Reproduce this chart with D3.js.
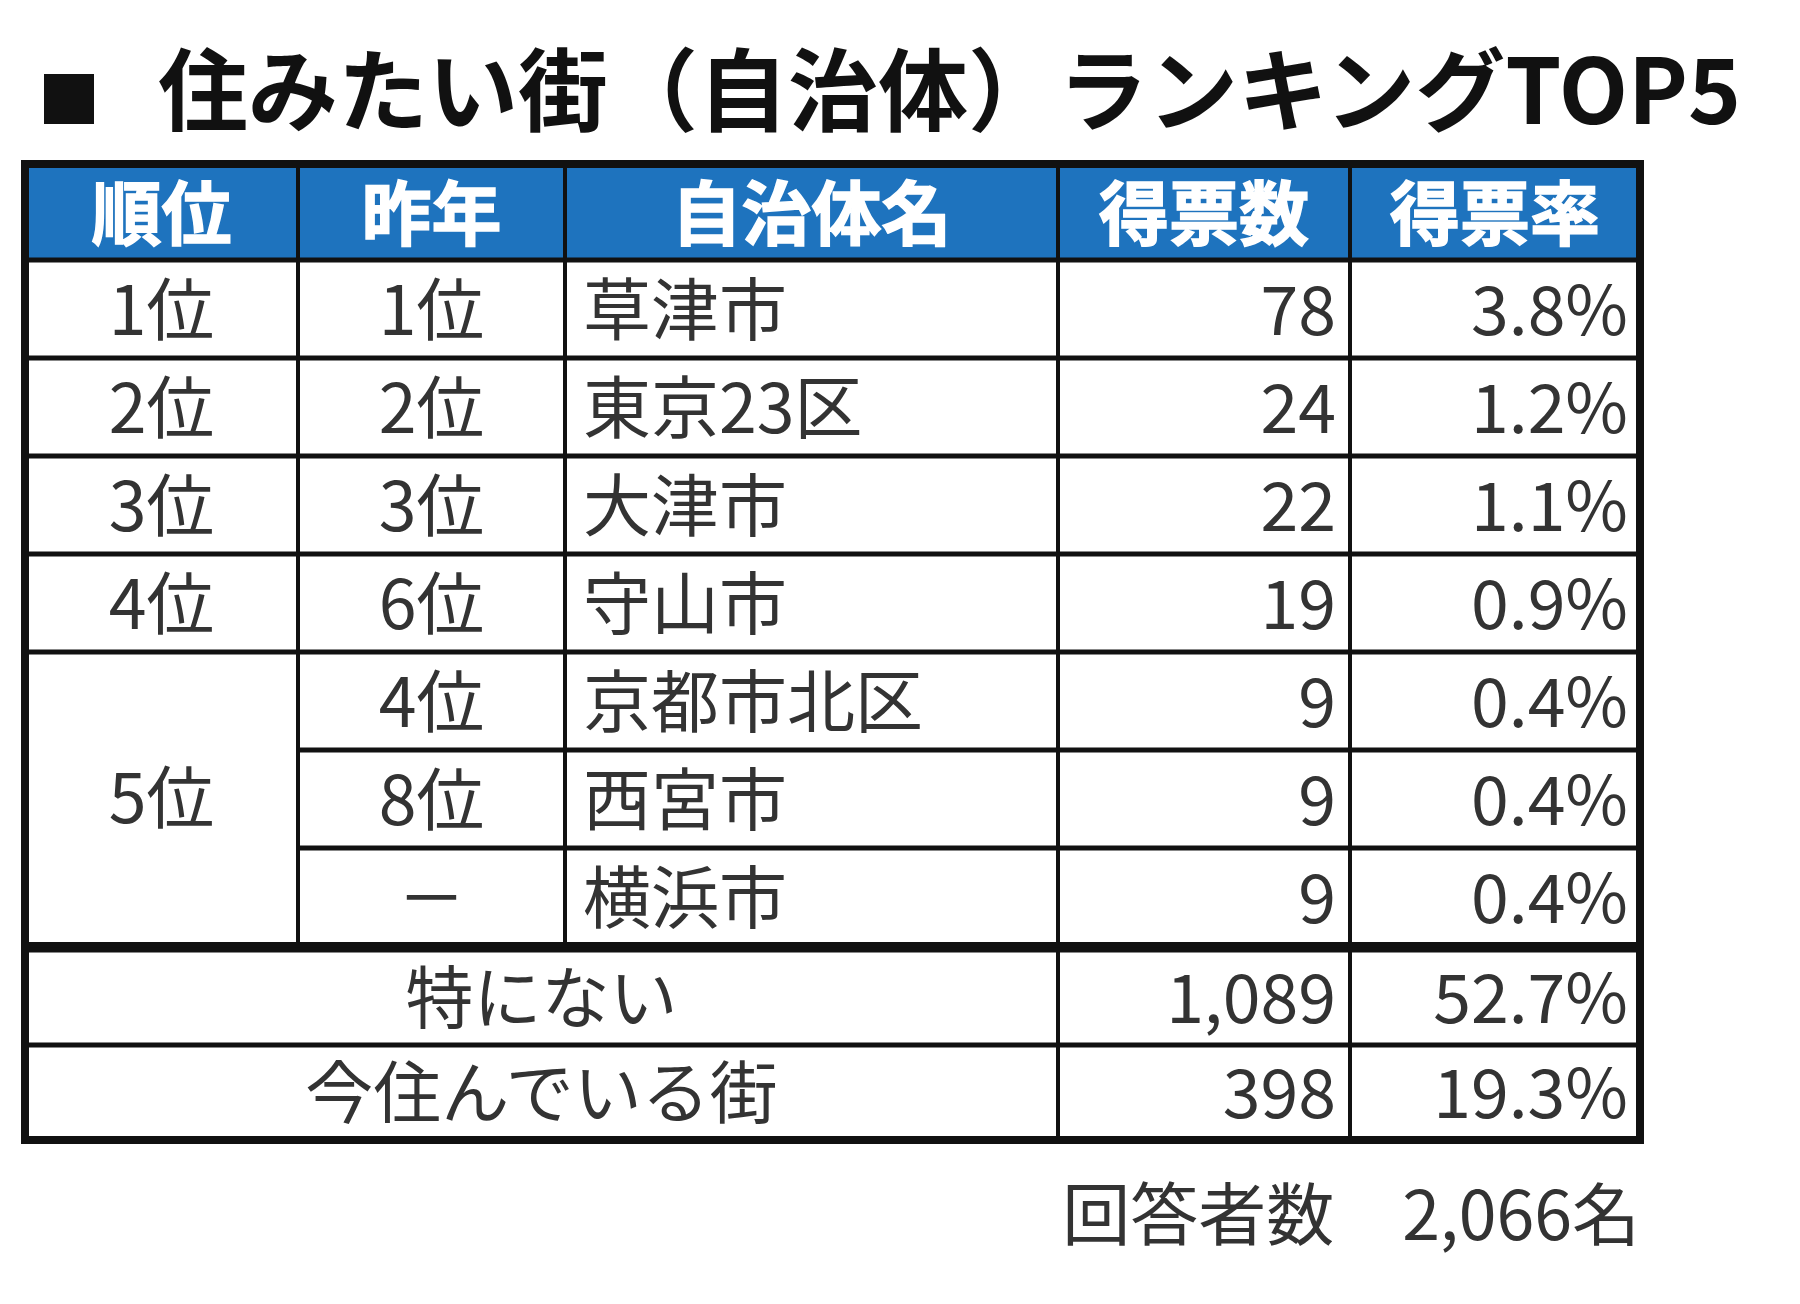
<!DOCTYPE html><html><head><meta charset="utf-8">
<script src="https://cdn.jsdelivr.net/npm/d3@7"></script>
<style>body{margin:0;background:#fff}</style></head><body><svg id="c" width="1800" height="1304"></svg>
<script>
const title="住みたい街（自治体）ランキングTOP5";
const headers=["順位","昨年","自治体名","得票数","得票率"];
const ranks=["1位","2位","3位","4位","5位","5位","5位"];
const lastYear=["1位","2位","3位","6位","4位","8位","－"];
const names=["草津市","東京23区","大津市","守山市","京都市北区","西宮市","横浜市"];
const votes=["78","24","22","19","9","9","9"];
const rates=["3.8%","1.2%","1.1%","0.9%","0.4%","0.4%","0.4%"];
const extraLabels=["特にない","今住んでいる街"];
const extraVotes=["1,089","398"];
const extraRates=["52.7%","19.3%"];
const footer="回答者数　2,066名";

const svg=d3.select("#c");
const F="'Noto Sans CJK JP','Noto Sans',sans-serif";
const colX=[25,298,565,1058,1350,1640];
const rowY=d3.scaleLinear().domain([0,7]).range([260,946]);
const exY=d3.scaleLinear().domain([0,2]).range([950,1140]);

svg.append("rect").attr("x",44).attr("y",74).attr("width",50).attr("height",50).attr("fill","#111");
svg.append("text").attr("x",158).attr("y",124).attr("font-family",F).attr("font-weight",700).attr("font-size",90).attr("fill","#111").text(title);

svg.append("rect").attr("x",25).attr("y",164).attr("width",1615).attr("height",96).attr("fill","#1e73be");
headers.forEach((h,i)=>{
  svg.append("text").attr("x",(colX[i]+colX[i+1])/2).attr("y",240).attr("text-anchor","middle")
    .attr("font-family",F).attr("font-weight",700).attr("font-size",70).attr("fill","#fff").attr("stroke","#fff").attr("stroke-width",1.5).text(h);
});
const rh=rowY(1)-rowY(0);
const txt=(xx,yy,t,anchor)=>svg.append("text").attr("x",xx).attr("y",yy).attr("text-anchor",anchor)
  .attr("font-family",F).attr("font-size",68).attr("fill","#333").text(t);
names.forEach((n,i)=>{
  const yb=rowY(i)+rh*0.77;
  if(i<4) txt((colX[0]+colX[1])/2,yb,ranks[i],"middle");
  txt((colX[1]+colX[2])/2,yb,lastYear[i],"middle");
  txt(colX[2]+18,yb,n,"start");
  txt(colX[4]-14,yb,votes[i],"end");
  txt(colX[5]-12,yb,rates[i],"end");
});
txt((colX[0]+colX[1])/2,(rowY(4)+rowY(7))/2+24,ranks[4],"middle");
const eh=exY(1)-exY(0);
extraLabels.forEach((l,i)=>{
  const yb=exY(i)+eh*0.77;
  txt((colX[0]+colX[3])/2,yb,l,"middle");
  txt(colX[4]-14,yb,extraVotes[i],"end");
  txt(colX[5]-12,yb,extraRates[i],"end");
});
const L=(x1,y1,x2,y2,w)=>svg.append("line").attr("x1",x1).attr("y1",y1).attr("x2",x2).attr("y2",y2).attr("stroke","#111").attr("stroke-width",w);
for(let i=0;i<=7;i++){ const y=rowY(i); if(i==5||i==6) L(colX[1],y,colX[5],y,5); else L(colX[0],y,colX[5],y,i==7?8:5);}
[0,1,2].forEach(i=>L(colX[0],exY(i),colX[5],exY(i),i==2?8:5));
[1,2,3,4].forEach(c=>{L(colX[c],164,colX[c],rowY(7),4);});
[3,4].forEach(c=>L(colX[c],exY(0),colX[c],exY(2),4));
svg.append("rect").attr("x",25).attr("y",164).attr("width",1615).attr("height",976).attr("fill","none").attr("stroke","#111").attr("stroke-width",8);
svg.append("text").attr("x",1640).attr("y",1240).attr("text-anchor","end").attr("font-family",F).attr("font-size",68).attr("fill","#333").text(footer);
</script></body></html>
